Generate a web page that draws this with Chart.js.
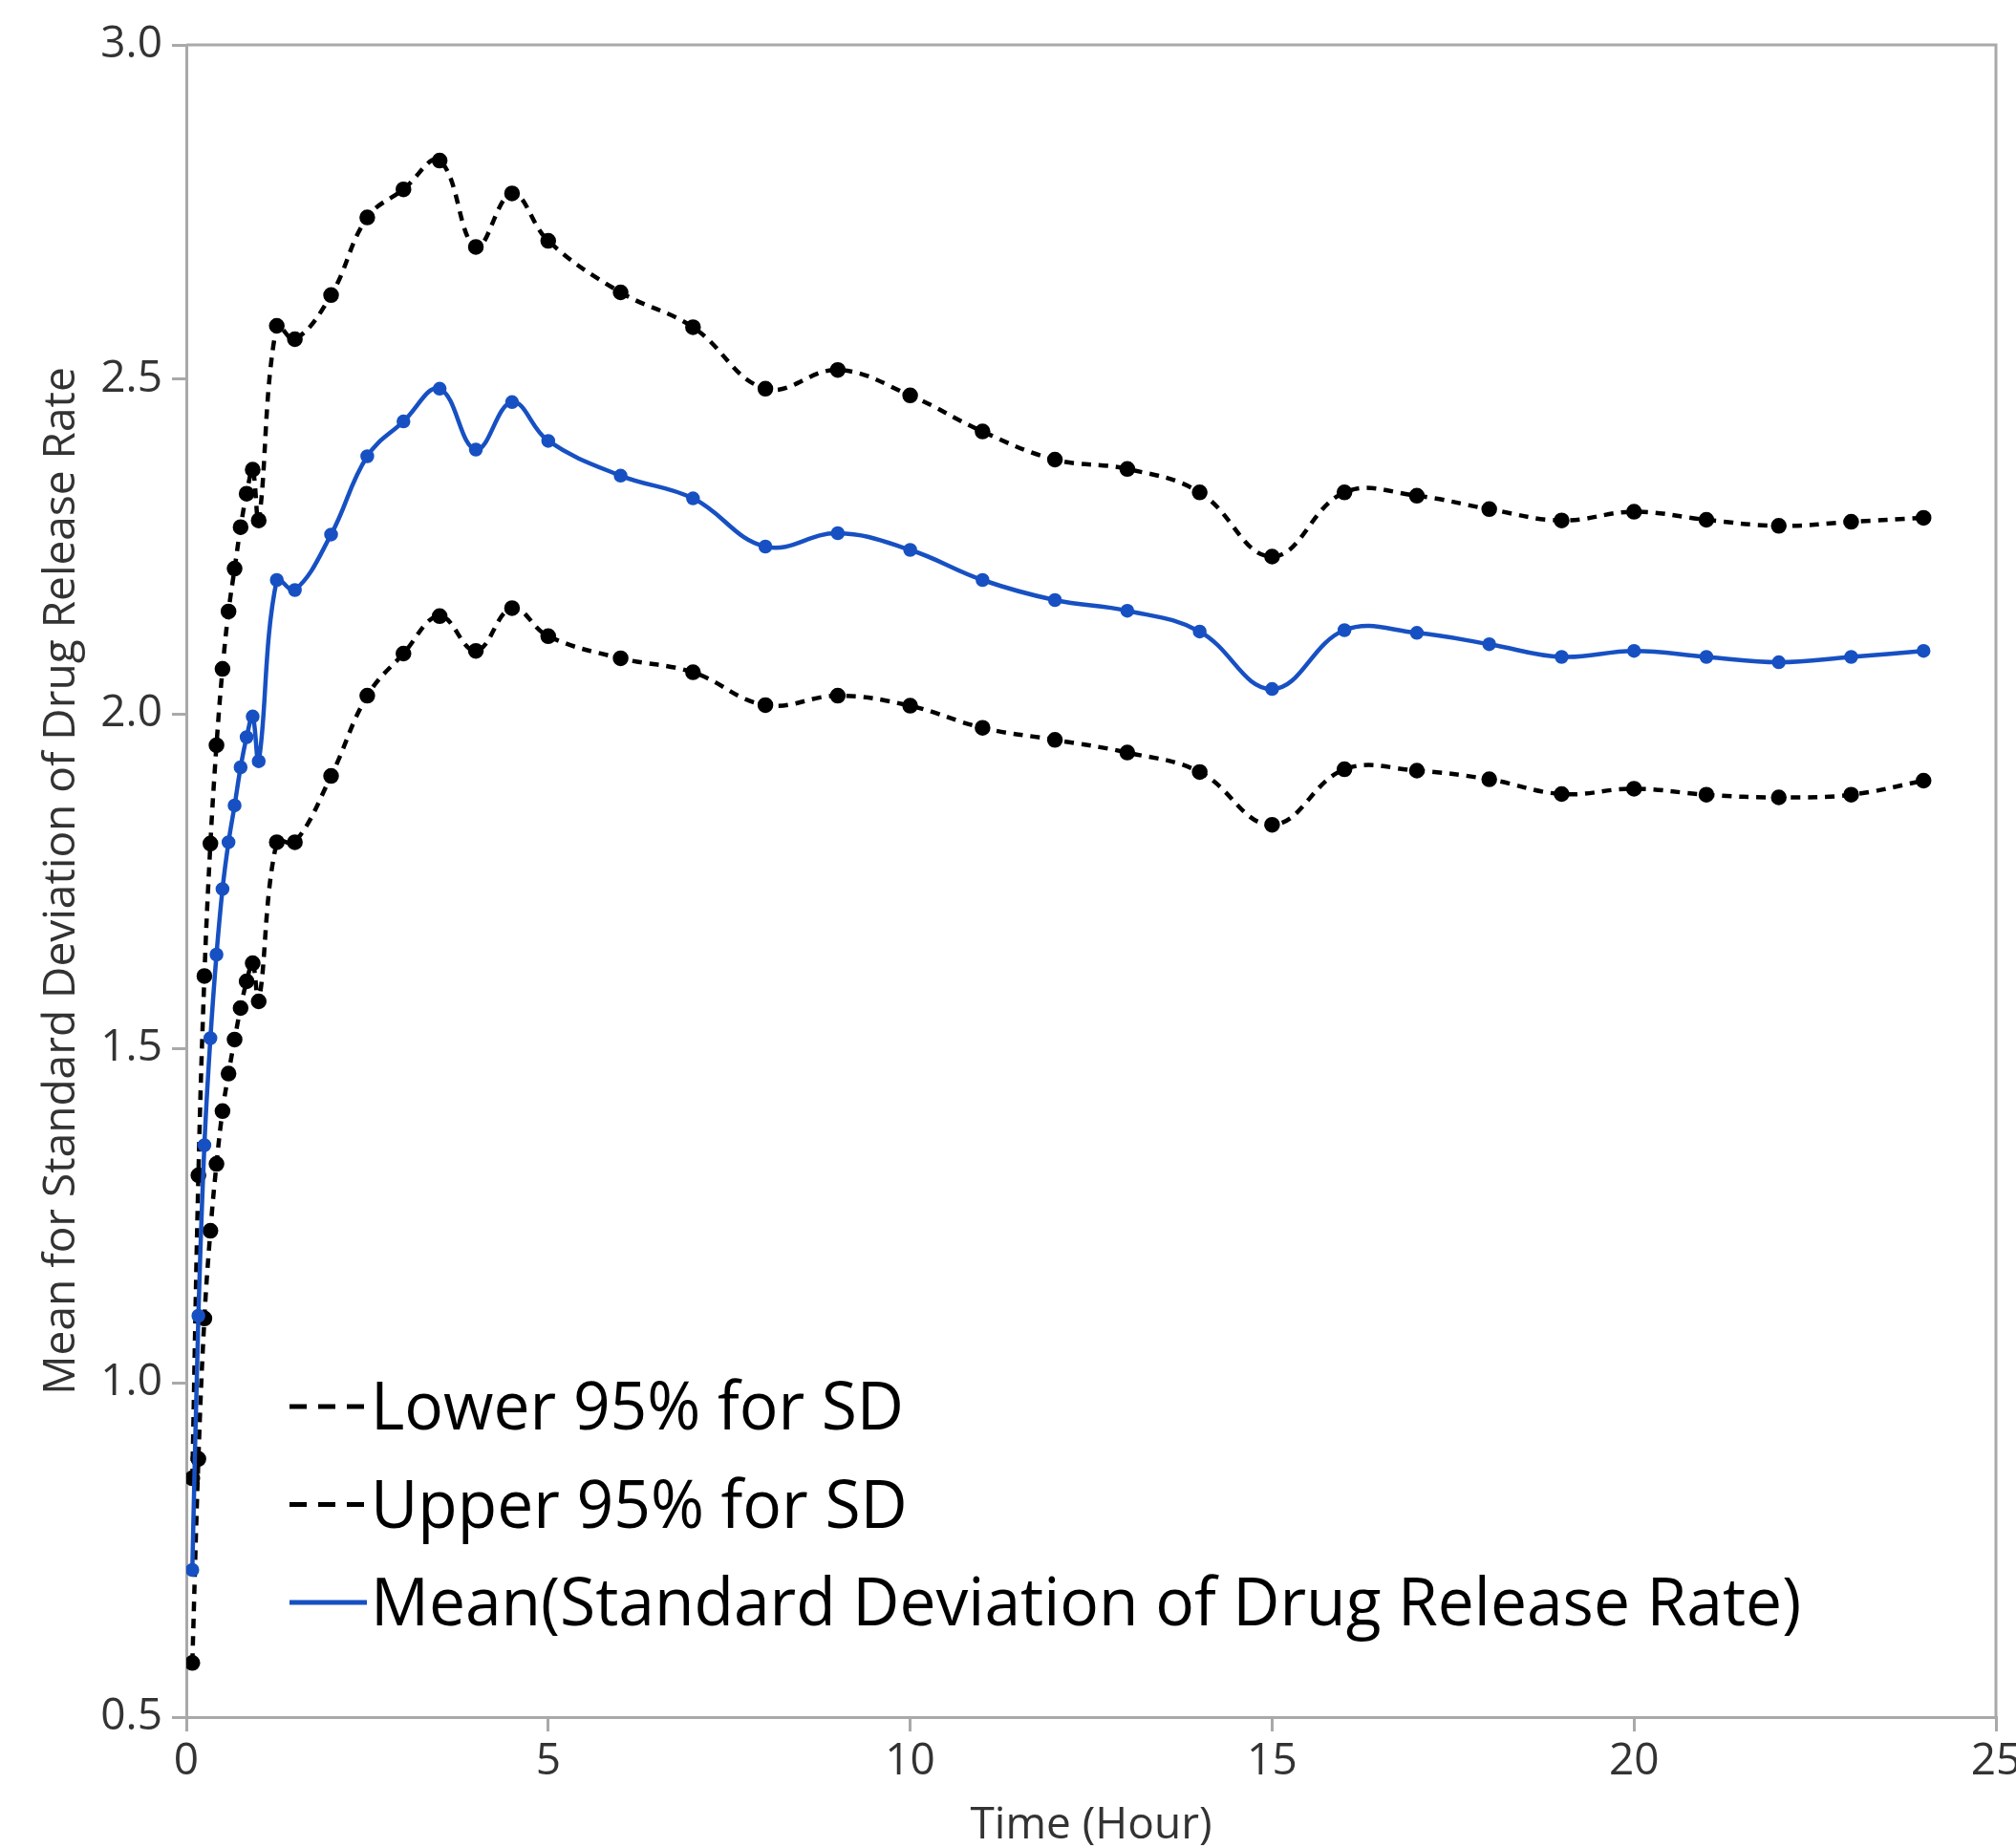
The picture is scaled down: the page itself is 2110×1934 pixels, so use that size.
<!DOCTYPE html>
<html>
<head>
<meta charset="utf-8">
<title>Mean for Standard Deviation of Drug Release Rate</title>
<script src="https://cdn.jsdelivr.net/npm/chart.js@4"></script>
<style>
  html, body { margin: 0; padding: 0; background: #fff; }
</style>
</head>
<body>
<canvas id="grafico" width="2110" height="1934"></canvas>
<script>
// tempos de coleta (horas)
const tempoHoras = [0.083, 0.167, 0.25, 0.333, 0.417, 0.5, 0.583, 0.667, 0.75, 0.833, 0.917, 1,
  1.25, 1.5, 2, 2.5, 3, 3.5, 4, 4.5, 5,
  6, 7, 8, 9, 10, 11, 12, 13, 14, 15, 16, 17, 18, 19, 20, 21, 22, 23, 24];

const inferior95 = [0.581, 0.886, 1.096, 1.227, 1.327, 1.406, 1.462, 1.513, 1.56, 1.6, 1.627, 1.57,
  1.808, 1.808, 1.907, 2.027, 2.09, 2.146, 2.094, 2.158, 2.116,
  2.083, 2.062, 2.013, 2.027, 2.012, 1.979, 1.961, 1.942, 1.913, 1.834, 1.917, 1.915, 1.902, 1.88, 1.888, 1.879, 1.875, 1.879, 1.9];

const superior95 = [0.857, 1.31, 1.608, 1.806, 1.953, 2.067, 2.153, 2.217, 2.279, 2.329, 2.365, 2.289,
  2.58, 2.56, 2.626, 2.742, 2.784, 2.827, 2.698, 2.778, 2.707,
  2.63, 2.578, 2.486, 2.514, 2.476, 2.422, 2.38, 2.366, 2.331, 2.235, 2.331, 2.326, 2.306, 2.289, 2.302, 2.29, 2.281, 2.287, 2.293];

const media = [0.72, 1.1, 1.355, 1.515, 1.64, 1.738, 1.808, 1.863, 1.92, 1.965, 1.996, 1.929,
  2.2, 2.185, 2.268, 2.385, 2.437, 2.486, 2.395, 2.466, 2.408,
  2.356, 2.322, 2.25, 2.27, 2.245, 2.2, 2.17, 2.154, 2.123, 2.037, 2.125, 2.121, 2.104, 2.085, 2.094, 2.085, 2.077, 2.085, 2.094];

const rotulos = ["Lower 95% for SD", "Upper 95% for SD", "Mean(Standard Deviation of Drug Release Rate)"];
const ticksY = [0.5, 1.0, 1.5, 2.0, 2.5, 3.0];
const ticksX = [0, 5, 10, 15, 20, 25];

const azul = "#1750c2";
const cinzaEixo = "#a9a9a9";
const corTexto = "#333333";

function pontos(valores) {
  return tempoHoras.map((t, i) => ({ x: t, y: valores[i] }));
}

// moldura superior e direita
const moldura = {
  id: "moldura",
  beforeDatasetsDraw(chart) {
    const { ctx, chartArea: a } = chart;
    ctx.save();
    ctx.strokeStyle = cinzaEixo;
    ctx.lineWidth = 3;
    ctx.beginPath();
    ctx.moveTo(a.left, a.top);
    ctx.lineTo(a.right, a.top);
    ctx.lineTo(a.right, a.bottom);
    ctx.stroke();
    ctx.restore();
  },
};

// legenda dentro da area do grafico
const legenda = {
  id: "legenda",
  afterDraw(chart) {
    const ctx = chart.ctx;
    ctx.save();
    ctx.font = '70px "Open Sans"';
    const sx = 558 / ctx.measureText(rotulos[0]).width;
    rotulos.forEach((texto, i) => {
      const base = 1496 + i * 102.5;
      const yLinha = base - 24;
      ctx.beginPath();
      ctx.strokeStyle = i < 2 ? "#000" : azul;
      ctx.lineWidth = 5;
      ctx.setLineDash(i < 2 ? [18, 12] : []);
      ctx.moveTo(303, yLinha);
      ctx.lineTo(384, yLinha);
      ctx.stroke();
      ctx.setLineDash([]);
      ctx.save();
      ctx.translate(388, base);
      ctx.scale(sx, 1);
      ctx.fillStyle = "#000";
      ctx.textBaseline = "alphabetic";
      ctx.fillText(texto, 0, 0);
      ctx.restore();
    });
    ctx.restore();
  },
};

const ctx = document.getElementById("grafico").getContext("2d");
const grafico = new Chart(ctx, {
  type: "scatter",
  data: {
    datasets: [
      {
        label: rotulos[2],
        data: pontos(media),
        showLine: true,
        borderColor: azul,
        backgroundColor: azul,
        borderWidth: 4.5,
        pointRadius: 5,
        tension: 0.4,
        order: 0,
      },
      {
        label: rotulos[0],
        data: pontos(inferior95),
        showLine: true,
        borderColor: "#000",
        backgroundColor: "#000",
        borderWidth: 4.5,
        borderDash: [10, 8],
        pointRadius: 6,
        tension: 0.4,
        order: 1,
      },
      {
        label: rotulos[1],
        data: pontos(superior95),
        showLine: true,
        borderColor: "#000",
        backgroundColor: "#000",
        borderWidth: 4.5,
        borderDash: [10, 8],
        pointRadius: 6,
        tension: 0.4,
        order: 2,
      },
    ],
  },
  options: {
    responsive: false,
    animation: false,
    layout: { padding: { top: 47, right: 21, left: 0, bottom: 0 } },
    plugins: {
      legend: { display: false },
      tooltip: { enabled: false },
    },
    scales: {
      x: {
        type: "linear",
        min: 0,
        max: 25,
        afterBuildTicks: (s) => { s.ticks = ticksX.map((v) => ({ value: v })); },
        ticks: {
          color: corTexto,
          font: { family: "Open Sans", size: 46 },
          padding: 4,
          maxRotation: 0,
        },
        grid: { drawOnChartArea: false, tickLength: 15, color: cinzaEixo, lineWidth: 3 },
        border: { color: cinzaEixo, width: 3 },
        title: {
          display: true,
          text: "Time (Hour)",
          color: corTexto,
          font: { family: "Open Sans", size: 46, lineHeight: 1 },
          padding: { top: 0, bottom: 0 },
        },
        afterFit: (s) => { s.height = 137; s.paddingLeft = 0; s.paddingRight = 0; },
      },
      y: {
        min: 0.5,
        max: 3.0,
        afterBuildTicks: (s) => { s.ticks = ticksY.map((v) => ({ value: v })); },
        ticks: {
          color: corTexto,
          font: { family: "Open Sans", size: 46 },
          padding: 10,
          callback: (v) => v.toFixed(1),
        },
        grid: { drawOnChartArea: false, tickLength: 15, color: cinzaEixo, lineWidth: 3 },
        border: { color: cinzaEixo, width: 3 },
        title: {
          display: true,
          text: "Mean for Standard Deviation of Drug Release Rate",
          color: corTexto,
          font: { family: "Open Sans", size: 46, lineHeight: 1 },
          padding: { top: 42, bottom: 0 },
        },
        afterFit: (s) => { s.width = 195; s.paddingTop = 0; s.paddingBottom = 0; },
      },
    },
  },
  plugins: [moldura, legenda],
});
</script>
</body>
</html>
